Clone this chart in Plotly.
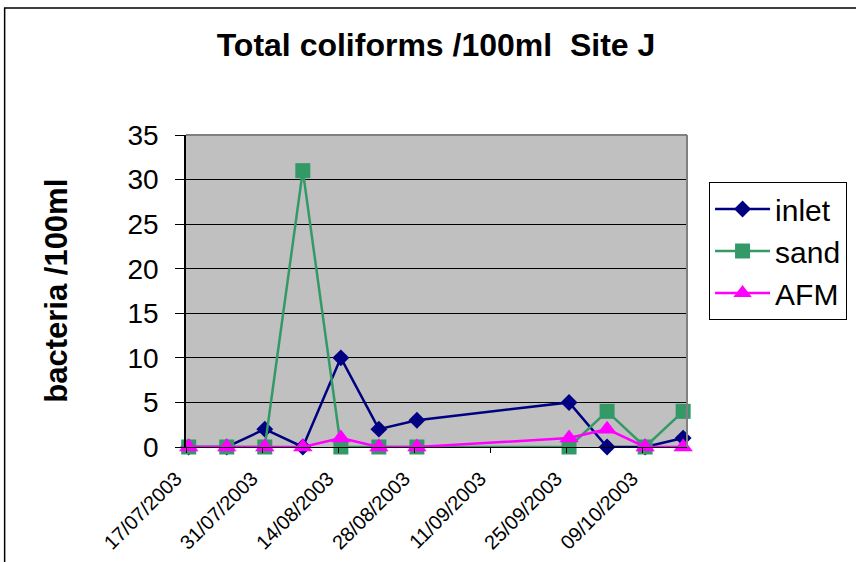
import plotly.graph_objects as go
import pandas as pd

dates = ["2003-07-17", "2003-07-24", "2003-07-31", "2003-08-07", "2003-08-14",
         "2003-08-21", "2003-08-28", "2003-09-25", "2003-10-02", "2003-10-09",
         "2003-10-16"]
inlet = [0, 0, 2, 0, 10, 2, 3, 5, 0, 0, 1]
sand = [0, 0, 0, 31, 0, 0, 0, 0, 4, 0, 4]
afm = [0, 0, 0, 0, 1, 0, 0, 1, 2, 0, 0]

tick_dates = ["2003-07-17", "2003-07-31", "2003-08-14", "2003-08-28",
              "2003-09-11", "2003-09-25", "2003-10-09"]
tick_labels = ["17/07/2003", "31/07/2003", "14/08/2003", "28/08/2003",
               "11/09/2003", "25/09/2003", "09/10/2003"]

# Excel date axis: each day occupies a slot; ticks sit at the start of the slot
half_day = pd.Timedelta(hours=12)
tickvals = [pd.Timestamp(d) - half_day for d in tick_dates]
x_range = [pd.Timestamp("2003-07-17") - half_day, pd.Timestamp("2003-10-16 17:00")]

FONT = "Liberation Sans, Arial, sans-serif"

fig = go.Figure()
series = [
    ("inlet", inlet, "#000080", "diamond", 13),
    ("sand", sand, "#339966", "square", 15),
    ("AFM", afm, "#FF00FF", "triangle-up", 17),
]
for name, vals, color, sym, size in series:
    fig.add_trace(go.Scatter(
        x=pd.to_datetime(dates), y=vals, name=name, mode="lines+markers",
        line=dict(color=color, width=2.5),
        marker=dict(symbol=sym, size=size, color=color),
        cliponaxis=False, legendgroup=name,
    ))

fig.update_layout(
    width=856, height=562,
    margin=dict(l=186, r=169, t=135, b=115, autoexpand=False),
    paper_bgcolor="white", plot_bgcolor="#C0C0C0",
    font=dict(family=FONT, color="black"),
    title=dict(text="<b>Total coliforms /100ml  Site J</b>", x=436/856, xanchor="center",
               y=1 - 45/562, yanchor="middle", font=dict(size=32, family=FONT)),
    showlegend=True,
    legend=dict(x=(708-186)/500, y=(447-182)/312, xanchor="left", yanchor="top",
                bgcolor="white", bordercolor="black", borderwidth=1,
                font=dict(size=30, family=FONT), itemwidth=55,
                tracegroupgap=0),
    xaxis=dict(type="date", range=x_range, tickvals=tickvals, ticktext=tick_labels,
               tickangle=-45, tickfont=dict(size=20), showgrid=False,
               showline=True, linecolor="black", linewidth=1,
               ticks="outside", ticklen=5, tickcolor="black", zeroline=False,
               ticklabelstandoff=6, ticklabelshift=-10, automargin=False),
    yaxis=dict(range=[0, 35], tickvals=[0, 5, 10, 15, 20, 25, 30, 35],
               tickfont=dict(size=28), showgrid=True, gridcolor="black", gridwidth=1,
               showline=True, linecolor="black", linewidth=1.5,
               ticks="outside", ticklen=9, tickcolor="black",
               ticklabelstandoff=11, zeroline=False, automargin=False),
    annotations=[dict(text="<b>bacteria /100ml</b>", textangle=-90,
                      xref="paper", yref="paper", x=(56-186)/500, y=0.5,
                      xanchor="center", yanchor="middle", showarrow=False,
                      font=dict(size=31, family=FONT))],
    shapes=[
        # plot area grey border (top and right)
        dict(type="line", xref="paper", yref="paper", x0=0, x1=1, y0=1, y1=1,
             line=dict(color="#808080", width=2), layer="above"),
        dict(type="line", xref="paper", yref="paper", x0=1, x1=1, y0=0, y1=1,
             line=dict(color="#808080", width=2), layer="above"),
        # chart frame
        dict(type="rect", xref="paper", yref="paper",
             x0=(5-186)/500, x1=(900-186)/500, y0=(447-600)/312, y1=(447-8)/312,
             line=dict(color="black", width=1.5), fillcolor="rgba(0,0,0,0)", layer="above"),
    ],
)

fig.write_html("out.html")
